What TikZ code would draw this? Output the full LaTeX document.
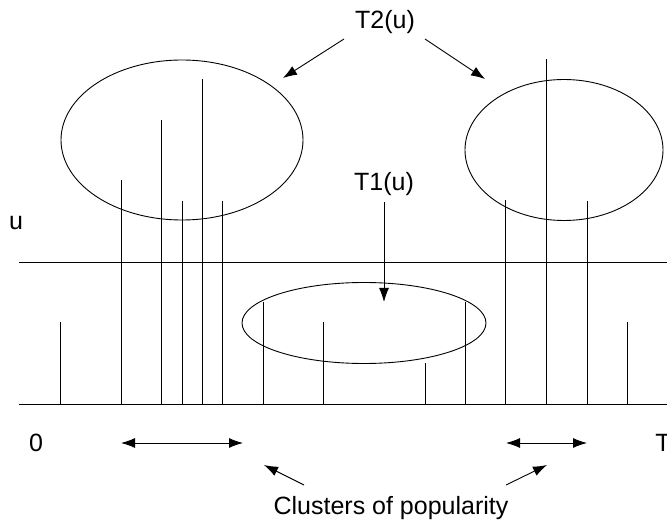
\documentclass[tikz,border=0pt]{standalone}
\usepackage{fontspec}
\setmainfont{Liberation Sans}
\usetikzlibrary{arrows.meta,shapes.geometric}
\tikzset{
  tlab/.style={font=\fontsize{25}{30}\selectfont,inner sep=0pt},
  tbar/.style={line width=0.9pt},
  tblob/.style={draw,ellipse,line width=0.9pt,inner sep=0pt},
  tarr/.style={line width=0.9pt,-{Latex[length=14pt,width=10pt]}},
  tspan/.style={line width=0.9pt,{Latex[length=14pt,width=10pt]}-{Latex[length=14pt,width=10pt]}},
}

\begin{document}
\begin{tikzpicture}[x=1pt,y=-1pt]
\clip (0,0) rectangle (667,521);
% time axis and threshold u
\draw[tbar] (19,404) -- (667,404);
\draw[tbar] (19,262) -- (667,262);
\node[tlab] (u) at (16,223) {u};
\node[tlab] (t0) at (36,443) {0};
\node[tlab] (tT) at (663,443) {T};
% request bars: x/top
\foreach \X/\H in {60/322,121/180,161/120,182/201,202/79,222/201,263/302,
                   323/322,425/363,465/302,505/200,546/59,587/201,627/322}{
  \draw[tbar] (\X,404) -- (\X,\H);}
% the three groups
\node[tblob,minimum width=242pt,minimum height=160pt] (cl) at (182,140) {};
\node[tblob,minimum width=198pt,minimum height=141pt] (cr) at (564,150) {};
\node[tblob,minimum width=244pt,minimum height=81pt] (cm) at (364,323) {};
% labels above
\node[tlab] (t2) at (385,22) {T2(u)};
\node[tlab] (t1) at (384,184) {T1(u)};
\coordinate (t2l) at (344,39);
\coordinate (t2r) at (425,39);
\coordinate (cla) at (283,78);
\coordinate (cra) at (485,79);
\coordinate (t1s) at (384,202);
\coordinate (cma) at (384,302);
\draw[tarr] (t2l) -- (cla);
\draw[tarr] (t2r) -- (cra);
\draw[tarr] (t1s) -- (cma);
% clusters of popularity
\coordinate (sl0) at (121,443);
\coordinate (sl1) at (243,443);
\coordinate (sr0) at (506,443);
\coordinate (sr1) at (587,443);
\draw[tspan] (sl0) -- (sl1);
\draw[tspan] (sr0) -- (sr1);
\node[tlab] (cp) at (391,508) {Clusters of popularity};
\coordinate (cpl) at (304,485);
\coordinate (cpr) at (506,485);
\coordinate (spl) at (264,465);
\coordinate (spr) at (547,465);
\draw[tarr] (cpl) -- (spl);
\draw[tarr] (cpr) -- (spr);
\end{tikzpicture}
\end{document}
